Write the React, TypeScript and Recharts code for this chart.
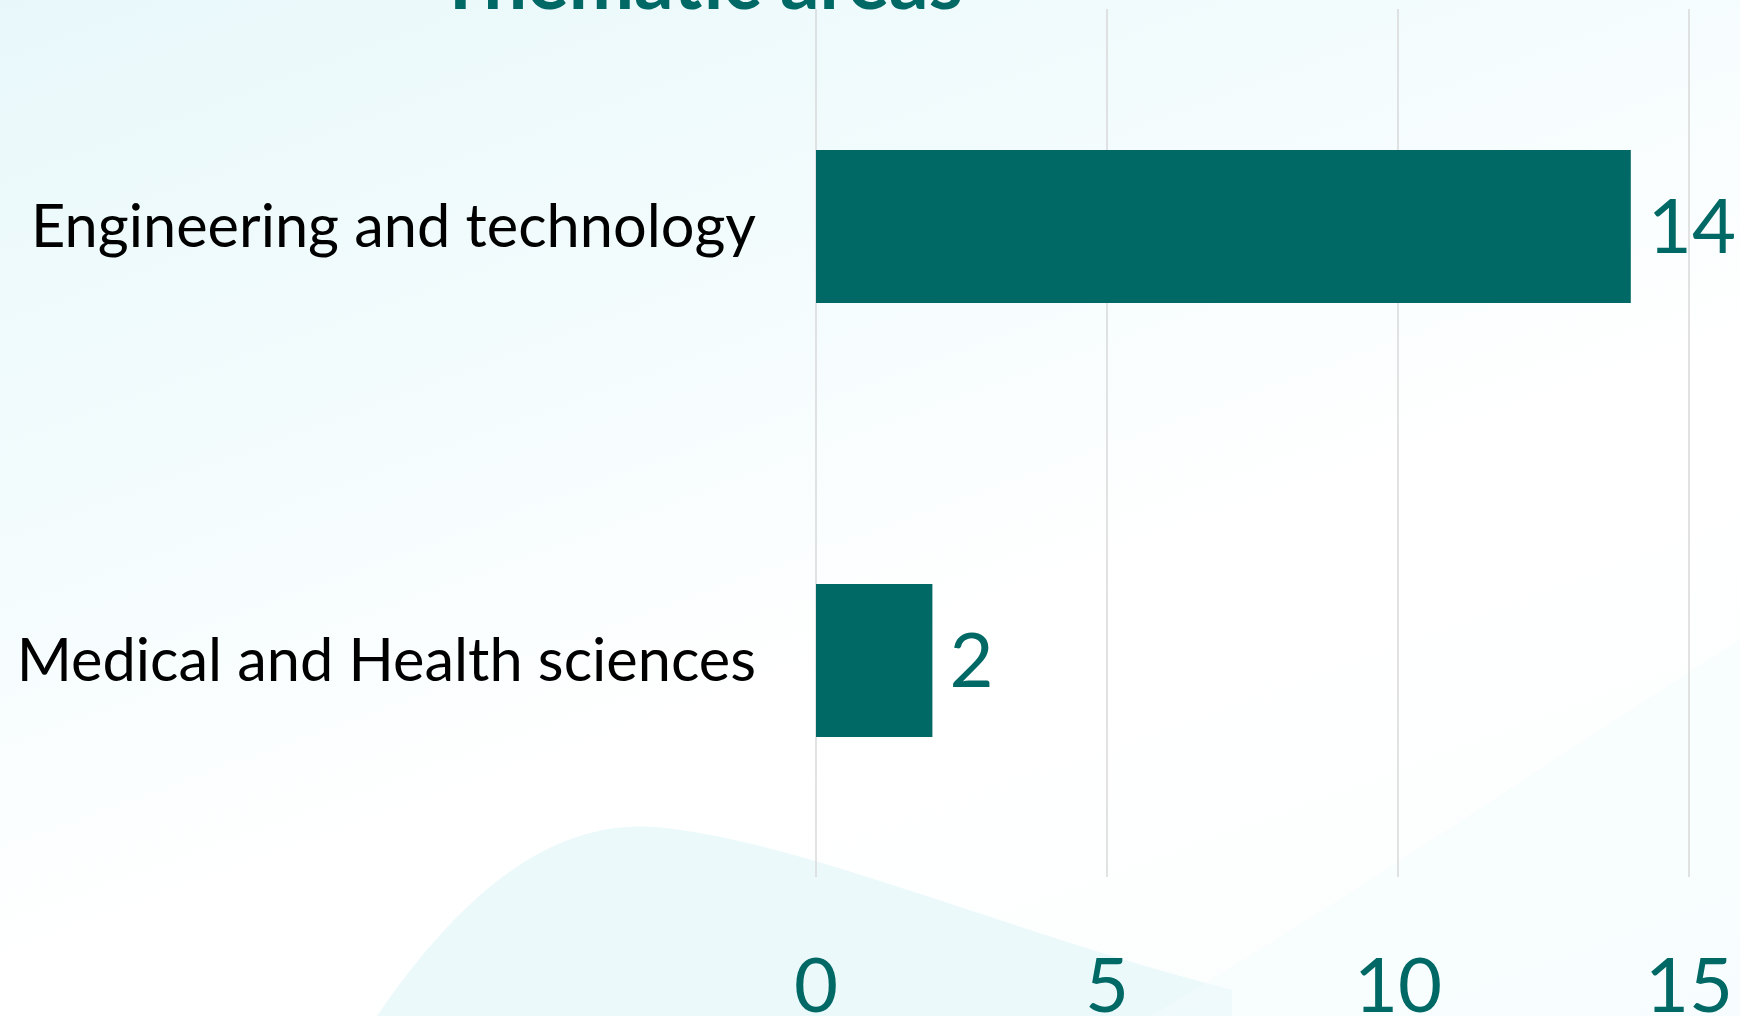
import React from "react";
import {
  BarChart,
  Bar,
  XAxis,
  YAxis,
  CartesianGrid,
  LabelList,
} from "recharts";

const areas = ["Engineering and technology", "Medical and Health sciences"];
const counts = [14, 2];
const xTicks = [0, 5, 10, 15];

const data = areas.map((area, i) => ({ area, count: counts[i] }));

const teal = "#006865";
const font = "Lato, 'Open Sans', sans-serif";

function BottomTick(props: any) {
  const { x, y, payload } = props;
  return (
    <text
      x={x}
      y={y + 135}
      textAnchor="middle"
      fill={teal}
      fontSize={76}
      fontFamily={font}
    >
      {payload.value}
    </text>
  );
}

function App() {
  return (
    <div
      style={{
        position: "absolute",
        left: 0,
        top: 0,
        width: 1740,
        height: 1016,
        overflow: "hidden",
        background:
          "linear-gradient(160deg, #e8f8fa 0%, #f4fcfd 35%, #ffffff 60%, #fbfefe 100%)",
      }}
    >
      <svg
        width={1740}
        height={1016}
        style={{ position: "absolute", left: 0, top: 0 }}
      >
        <path
          d="M 377 1016 C 470 880, 560 820, 655 827 C 800 840, 1000 930, 1232 990 L 1232 1016 Z"
          fill="#e4f7f9"
          opacity={0.7}
        />
        <path
          d="M 1150 1016 C 1350 900, 1550 760, 1740 640 L 1740 1016 Z"
          fill="#f4fcfd"
          opacity={0.5}
        />
        <text
          x={700}
          y={9}
          textAnchor="middle"
          fill={teal}
          fontSize={78}
          fontWeight={700}
          fontFamily={font}
        >
          Thematic areas
        </text>
      </svg>
      <div style={{ position: "absolute", left: 0, top: 0 }}>
        <BarChart
          width={1740}
          height={1016}
          layout="vertical"
          data={data}
          margin={{ top: 9, right: 51, bottom: 0, left: 0 }}
        >
          <CartesianGrid horizontal={false} stroke="#d9d9d9" strokeWidth={1.5} />
          <XAxis
            type="number"
            domain={[0, 15]}
            ticks={xTicks}
            axisLine={false}
            tickLine={false}
            tickSize={0}
            tickMargin={0}
            height={139}
            tick={<BottomTick />}
            interval={0}
          />
          <YAxis
            type="category"
            dataKey="area"
            width={816}
            axisLine={false}
            tickLine={false}
            tickSize={0}
            tickMargin={60}
            tick={{ fill: "#000000", fontSize: 59.5, fontFamily: font }}
          />
          <Bar
            dataKey="count"
            fill={teal}
            barSize={153}
            isAnimationActive={false}
          >
            <LabelList
              dataKey="count"
              position="right"
              offset={17}
              fill={teal}
              fontSize={76}
              fontFamily={font}
            />
          </Bar>
        </BarChart>
      </div>
    </div>
  );
}

export default App;
